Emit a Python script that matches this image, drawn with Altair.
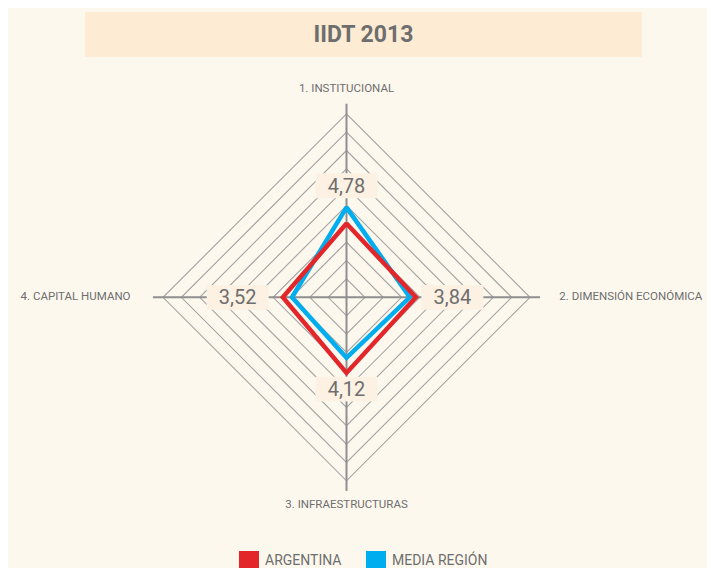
import altair as alt
import pandas as pd
import numpy as np

# ---- data ----
axis_names = ["1. INSTITUCIONAL", "2. DIMENSIÓN ECONÓMICA", "3. INFRAESTRUCTURAS", "4. CAPITAL HUMANO"]
argentina = [4.02, 3.78, 4.12, 3.47]
media_region = [4.90, 3.45, 3.30, 2.97]
value_labels = ["4,78", "3,84", "4,12", "3,52"]
series_names = ["ARGENTINA", "MEDIA REGIÓN"]
grid_levels = list(range(1, 11))
title_text = "IIDT 2013"

# ---- styling / layout ----
W, H = 699, 565
CX, CY = 338.5, 289.3          # centre in chart pixels
UNIT = 18.35                   # pixels per unit
FONT = "Roboto"
GRAY = "#6e6e6e"
BG = "#fdf8ee"
RED = "#e3262a"
BLUE = "#00aeef"

x_dom = [-CX / UNIT, (W - CX) / UNIT]
y_dom = [-(H - CY) / UNIT, CY / UNIT]

n = len(axis_names)
angles = [np.pi / 2 - i * 2 * np.pi / n for i in range(n)]

def px(r, i):
    return r * np.cos(angles[i])

def py(r, i):
    return r * np.sin(angles[i])

# grid diamonds
grid_rows = []
for lv in grid_levels:
    for k in range(n + 1):
        i = k % n
        grid_rows.append({"level": lv, "k": k, "x": px(lv, i), "y": py(lv, i)})
grid_df = pd.DataFrame(grid_rows)

# axes
axis_len = 10.55
axes_df = pd.DataFrame([
    {"axis": axis_names[i], "x": 0.0, "y": 0.0, "x2": px(axis_len, i), "y2": py(axis_len, i)}
    for i in range(n)
])

# axis labels
lab_r = [11.33, 11.6, 11.33, 11.77]
lab_align = ["center", "left", "center", "right"]
axlab_df = pd.DataFrame([
    {"label": axis_names[i], "x": px(lab_r[i], i), "y": py(lab_r[i], i), "al": lab_align[i]}
    for i in range(n)
])

# series polygons
poly_rows = []
for name, vals in zip(series_names, [argentina, media_region]):
    for k in range(n + 1):
        i = k % n
        poly_rows.append({"serie": name, "k": k, "x": px(vals[i], i), "y": py(vals[i], i)})
poly_df = pd.DataFrame(poly_rows)

# value labels
val_r = [6.08, 5.77, 5.0, 5.93]
val_df = pd.DataFrame([
    {"txt": value_labels[i], "x": px(val_r[i], i), "y": py(val_r[i], i)}
    for i in range(n)
])

xs = alt.Scale(domain=x_dom, nice=False, zero=False)
ys = alt.Scale(domain=y_dom, nice=False, zero=False)
X = alt.X("x:Q", scale=xs, axis=None)
Y = alt.Y("y:Q", scale=ys, axis=None)

grid = alt.Chart(grid_df).mark_line(color="#a3a3a3", strokeWidth=1.1, strokeJoin="miter").encode(
    x=X, y=Y, detail="level:N", order="k:Q"
)

axes = alt.Chart(axes_df).mark_rule(color="#8f8f8f", strokeWidth=2).encode(
    x=X, y=Y, x2="x2:Q", y2="y2:Q"
)

color_scale = alt.Scale(domain=series_names, range=[RED, BLUE])

legend_pts = alt.Chart(poly_df).mark_square(size=6, opacity=1, filled=True).encode(
    x=X, y=Y,
    fill=alt.Fill("serie:N", scale=color_scale, sort=series_names,
                  legend=alt.Legend(title=None, orient="none", legendX=231, legendY=543,
                                    direction="horizontal", symbolType="square", symbolSize=400,
                                    symbolStrokeWidth=0, labelFont=FONT, labelFontSize=14,
                                    labelColor=GRAY, labelOffset=6, columnPadding=24)),
)

lines = alt.Chart(poly_df).mark_line(strokeWidth=4.5, strokeJoin="miter").encode(
    x=X, y=Y,
    stroke=alt.Stroke("serie:N", scale=color_scale, legend=None),
    order="k:Q",
    detail="serie:N",
)
blue_line = lines.transform_filter(alt.datum.serie == series_names[1])
red_line = lines.transform_filter(alt.datum.serie == series_names[0])

boxes = alt.Chart(val_df).mark_point(
    shape="M-1,-0.4L1,-0.4L1,0.4L-1,0.4Z", size=62 * 62, filled=True,
    fill="#fcf1e3", opacity=1, strokeWidth=0
).encode(x=X, y=Y)

vals_txt = alt.Chart(val_df).mark_text(
    font=FONT, fontSize=20, color=GRAY, baseline="middle", align="center", dy=1
).encode(x=X, y=Y, text="txt:N")

def axlab(al):
    return alt.Chart(axlab_df).transform_filter(alt.datum.al == al).mark_text(
        font=FONT, fontSize=11.5, color=GRAY, baseline="middle", align=al
    ).encode(x=X, y=Y, text="label:N")

title_df = pd.DataFrame({"t": [title_text]})
title_box = alt.Chart(title_df).mark_rect(color="#fdebd3").encode(
    x=alt.value(77), x2=alt.value(634), y=alt.value(4), y2=alt.value(49)
)
title = alt.Chart(title_df).mark_text(
    font=FONT, fontSize=23, fontWeight="bold", color=GRAY, baseline="middle", align="center"
).encode(x=alt.value(355.5), y=alt.value(27), text="t:N")

chart = alt.layer(
    title_box, title, grid, axes, legend_pts, blue_line, red_line, boxes, vals_txt,
    axlab("center"), axlab("left"), axlab("right")
).properties(
    width=W, height=H, autosize=alt.AutoSizeParams(type="none"), padding=0,
    background=BG
).configure_view(stroke=None).resolve_scale(fill="independent", stroke="independent")

chart.save("out.html", embed_options={"renderer": "svg", "actions": False})
